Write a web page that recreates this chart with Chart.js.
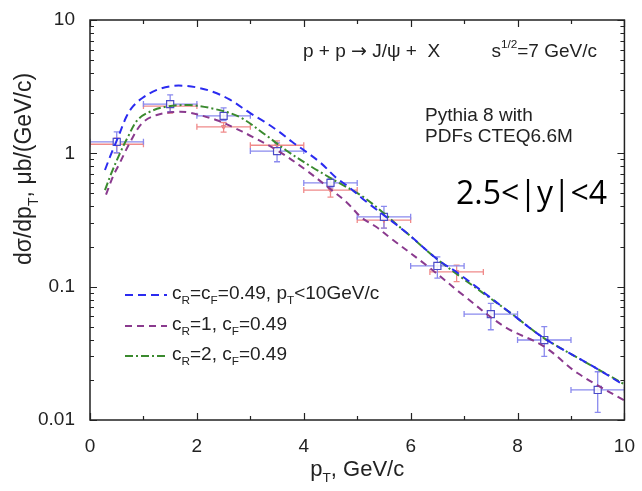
<!DOCTYPE html>
<html>
<head>
<meta charset="utf-8">
<script src="https://cdn.jsdelivr.net/npm/chart.js@4.4.1/dist/chart.umd.min.js"></script>
<style>
  html, body { margin: 0; padding: 0; background: #fff; }
  #wrap { width: 642px; height: 491px; }
</style>
</head>
<body>
<div id="wrap"><canvas id="chart" width="642" height="491"></canvas></div>
<script>
// data points (blue squares) and their errors
var blueX = [0.5, 1.5, 2.5, 3.5, 4.5, 5.5, 6.5, 7.5, 8.5, 9.5];
var blueY = [1.22, 2.34, 1.91, 1.04, 0.60, 0.334, 0.143, 0.0623, 0.0398, 0.0168];
var blueYLo = [1.01, 2.05, 1.76, 0.865, 0.55, 0.275, 0.116, 0.0475, 0.030, 0.0114];
var blueYHi = [1.45, 2.74, 2.19, 1.20, 0.65, 0.40, 0.167, 0.075, 0.0502, 0.0230];
var blueXErr = [0.5, 0.5, 0.5, 0.5, 0.5, 0.5, 0.5, 0.5, 0.5, 0.5];

// second data set (red)
var redX = [0.5, 1.5, 2.5, 3.5, 4.5, 5.5, 6.86];
var redY = [1.17, 2.26, 1.58, 1.15, 0.53, 0.316, 0.129];
var redYLo = [1.01, 2.0, 1.44, 1.05, 0.47, 0.275, 0.109];
var redYHi = [1.30, 2.45, 1.70, 1.24, 0.58, 0.35, 0.145];
var redXErr = [0.5, 0.5, 0.5, 0.5, 0.5, 0.5, 0.5];

// model curves
var curveAX = [0.28, 0.40, 0.52, 0.68, 0.80, 0.98, 1.24, 1.55, 1.80, 2.05, 2.29, 2.6, 3.0, 3.26, 3.54, 3.78, 4.04, 4.32, 4.60, 4.84, 5.13, 5.90, 6.52, 6.89, 7.88, 8.50, 9.43, 10.0];
var curveAY = [0.75, 1.0, 1.30, 1.88, 2.24, 2.60, 2.98, 3.20, 3.20, 3.09, 2.90, 2.55, 2.0, 1.73, 1.45, 1.22, 1.03, 0.845, 0.66, 0.56, 0.447, 0.258, 0.158, 0.126, 0.063, 0.041, 0.025, 0.0182];

var curveBX = [0.30, 0.43, 0.56, 0.74, 0.98, 1.25, 1.62, 1.86, 2.36, 2.66, 3.04, 3.54, 4.04, 4.52, 4.80, 5.08, 5.36, 5.59, 6.33, 7.02, 7.76, 8.50, 9.12, 10.0];
var curveBY = [0.49, 0.67, 0.85, 1.19, 1.69, 1.94, 2.05, 2.02, 1.78, 1.58, 1.33, 1.03, 0.75, 0.53, 0.43, 0.33, 0.28, 0.237, 0.141, 0.084, 0.050, 0.0355, 0.0225, 0.0140];

var curveCX = [0.28, 0.40, 0.56, 0.71, 0.89, 1.12, 1.43, 1.86, 2.29, 2.79, 3.29, 3.66, 4.15, 4.66, 5.15, 5.90, 6.52, 7.88, 8.50, 9.43, 10.0];
var curveCY = [0.53, 0.71, 1.0, 1.33, 1.78, 2.05, 2.24, 2.30, 2.17, 1.88, 1.37, 1.06, 0.79, 0.60, 0.46, 0.258, 0.158, 0.063, 0.041, 0.025, 0.0185];

var xTicks = [0, 2, 4, 6, 8, 10];
var yTicks = [0.01, 0.1, 1, 10];

var FONT = "'Liberation Sans', Arial, sans-serif";

function pts(xs, ys) {
  return xs.map(function (x, i) { return { x: x, y: ys[i] }; });
}

// parts: [text, "" | "sub" | "sup" | "sym"]
function drawRich(ctx, parts, x, y, size, align) {
  function fontOf(p) {
    if (p[1] === "sub" || p[1] === "sup") return (size * 0.62) + "px " + FONT;
    if (p[1] === "sym") return size + "px 'DejaVu Sans', sans-serif";
    return size + "px " + FONT;
  }
  var w = 0;
  parts.forEach(function (p) {
    ctx.font = fontOf(p);
    p.w = ctx.measureText(p[0]).width;
    w += p.w;
  });
  var cx = align === "center" ? x - w / 2 : (align === "right" ? x - w : x);
  ctx.textAlign = "left";
  ctx.textBaseline = "middle";
  parts.forEach(function (p) {
    var dy = p[1] === "sub" ? size * 0.38 : (p[1] === "sup" ? -size * 0.4 : 0);
    ctx.font = fontOf(p);
    ctx.fillText(p[0], cx, y + dy);
    cx += p.w;
  });
}

var errorBars = {
  id: "errorBars",
  beforeDatasetsDraw: function (chart) {
    var ctx = chart.ctx, xs = chart.scales.x, ys = chart.scales.y, a = chart.chartArea;
    ctx.save();
    ctx.beginPath();
    ctx.rect(a.left, a.top, a.right - a.left, a.bottom - a.top);
    ctx.clip();
    ctx.lineWidth = 1.3;
    [
      [redX, redY, redYLo, redYHi, redXErr, "#f08a8a"],
      [blueX, blueY, blueYLo, blueYHi, blueXErr, "#8a8aee"]
    ].forEach(function (s) {
      ctx.strokeStyle = s[5];
      s[0].forEach(function (xv, i) {
        var px = xs.getPixelForValue(xv);
        var py = ys.getPixelForValue(s[1][i]);
        var x1 = xs.getPixelForValue(xv - s[4][i]);
        var x2 = xs.getPixelForValue(xv + s[4][i]);
        var y1 = ys.getPixelForValue(s[2][i]);
        var y2 = ys.getPixelForValue(s[3][i]);
        ctx.beginPath();
        ctx.moveTo(x1, py); ctx.lineTo(x2, py);
        ctx.moveTo(x1, py - 3); ctx.lineTo(x1, py + 3);
        ctx.moveTo(x2, py - 3); ctx.lineTo(x2, py + 3);
        ctx.moveTo(px, y1); ctx.lineTo(px, y2);
        ctx.moveTo(px - 3, y1); ctx.lineTo(px + 3, y1);
        ctx.moveTo(px - 3, y2); ctx.lineTo(px + 3, y2);
        ctx.stroke();
      });
    });
    ctx.restore();
  }
};

var frame = {
  id: "frame",
  afterDraw: function (chart) {
    var ctx = chart.ctx, xs = chart.scales.x, ys = chart.scales.y, a = chart.chartArea;
    ctx.save();
    ctx.strokeStyle = "#222";
    ctx.lineWidth = 1.5;
    ctx.strokeRect(a.left, a.top, a.right - a.left, a.bottom - a.top);
    ctx.beginPath();
    for (var v = 0; v <= 10; v++) {
      var px = Math.round(xs.getPixelForValue(v)) + 0.5;
      var len = v % 2 === 0 ? 7 : 4;
      ctx.moveTo(px, a.bottom); ctx.lineTo(px, a.bottom - len);
      ctx.moveTo(px, a.top); ctx.lineTo(px, a.top + len);
    }
    [0.01, 0.1, 1].forEach(function (d) {
      for (var m = 1; m <= 10; m++) {
        var py = Math.round(ys.getPixelForValue(d * m)) + 0.5;
        var len = (m === 1 || m === 10) ? 7 : 4;
        ctx.moveTo(a.left, py); ctx.lineTo(a.left + len, py);
        ctx.moveTo(a.right, py); ctx.lineTo(a.right - len, py);
      }
    });
    ctx.lineWidth = 1.2;
    ctx.stroke();

    ctx.fillStyle = "#222";
    // axis titles
    drawRich(ctx, [["p", ""], ["T", "sub"], [", GeV/c", ""]], (a.left + a.right) / 2, 470, 22, "center");
    ctx.save();
    ctx.translate(25, 169);
    ctx.rotate(-Math.PI / 2);
    drawRich(ctx, [["d\u03c3/dp", ""], ["T", "sub"], [", \u03bcb/(GeV/c)", ""]], 0, 0, 23, "center");
    ctx.restore();

    // annotations
    drawRich(ctx, [["p + p ", ""], ["\u2192", "sym"], [" J/\u03c8 +  X", ""]], 303, 52, 19, "left");
    drawRich(ctx, [["s", ""], ["1/2", "sup"], ["=7 GeV/c", ""]], 597, 52, 19, "right");
    drawRich(ctx, [["Pythia 8 with", ""]], 425, 116, 19, "left");
    drawRich(ctx, [["PDFs CTEQ6.6M", ""]], 425, 137, 19, "left");
    ctx.font = "32px 'Open Sans', 'Noto Sans', sans-serif";
    ctx.textAlign = "left";
    ctx.textBaseline = "middle";
    ctx.fillStyle = "#000";
    ctx.fillText("2.5<|y|<4", 456, 195);

    // legend
    var rows = [
      [0, 295, [["c", ""], ["R", "sub"], ["=c", ""], ["F", "sub"], ["=0.49, p", ""], ["T", "sub"], ["<10GeV/c", ""]]],
      [1, 326, [["c", ""], ["R", "sub"], ["=1, c", ""], ["F", "sub"], ["=0.49", ""]]],
      [2, 356, [["c", ""], ["R", "sub"], ["=2, c", ""], ["F", "sub"], ["=0.49", ""]]]
    ];
    rows.forEach(function (r) {
      var ds = chart.data.datasets[r[0]];
      ctx.strokeStyle = ds.borderColor;
      ctx.lineWidth = ds.borderWidth;
      ctx.setLineDash(ds.borderDash);
      ctx.beginPath();
      ctx.moveTo(125, r[1]); ctx.lineTo(167, r[1]);
      ctx.stroke();
      ctx.setLineDash([]);
      ctx.fillStyle = "#222";
      drawRich(ctx, r[2], 172, r[1] - 1, 19, "left");
    });
    ctx.restore();
  }
};

new Chart(document.getElementById("chart"), {
  type: "scatter",
  data: {
    datasets: [
      {
        label: "cR=cF=0.49",
        type: "line",
        data: pts(curveAX, curveAY),
        borderColor: "#2b2bf0",
        borderWidth: 2,
        borderDash: [8, 5],
        pointRadius: 0,
        tension: 0.35,
        fill: false
      },
      {
        label: "cR=1, cF=0.49",
        type: "line",
        data: pts(curveBX, curveBY),
        borderColor: "#8a3a8e",
        borderWidth: 2,
        borderDash: [7, 5],
        pointRadius: 0,
        tension: 0.35,
        fill: false
      },
      {
        label: "cR=2, cF=0.49",
        type: "line",
        data: pts(curveCX, curveCY),
        borderColor: "#3a8a2e",
        borderWidth: 2,
        borderDash: [8, 3, 2, 3],
        pointRadius: 0,
        tension: 0.35,
        fill: false
      },
      {
        label: "data blue",
        data: pts(blueX, blueY),
        pointStyle: "rect",
        pointRadius: 5,
        borderColor: "#4b4bc8",
        backgroundColor: "rgba(255,255,255,0.85)",
        pointBorderWidth: 1.2
      },
      {
        label: "data red",
        data: pts(redX, redY),
        pointStyle: "triangle",
        rotation: 180,
        pointRadius: 2.5,
        borderColor: "#e87a7a",
        backgroundColor: "rgba(255,255,255,0)",
        pointBorderWidth: 1
      }
    ]
  },
  options: {
    responsive: false,
    animation: false,
    layout: { padding: { top: 20, right: 15, left: 0, bottom: 0 } },
    plugins: { legend: { display: false }, tooltip: { enabled: false } },
    scales: {
      x: {
        type: "linear",
        min: 0,
        max: 10,
        afterBuildTicks: function (scale) {
          scale.ticks = xTicks.map(function (v) { return { value: v }; });
        },
        afterFit: function (scale) { scale.height = 71; },
        grid: { display: false },
        border: { display: false },
        ticks: { color: "#222", padding: 7, maxRotation: 0, font: { family: FONT, size: 19 } }
      },
      y: {
        type: "logarithmic",
        min: 0.01,
        max: 10,
        afterBuildTicks: function (scale) {
          scale.ticks = yTicks.map(function (v) { return { value: v, major: true }; });
        },
        afterFit: function (scale) { scale.width = 90; },
        grid: { display: false },
        border: { display: false },
        ticks: {
          color: "#222",
          padding: 7,
          font: { family: FONT, size: 19 },
          callback: function (v) { return String(v); }
        }
      }
    }
  },
  plugins: [errorBars, frame]
});
</script>
</body>
</html>
